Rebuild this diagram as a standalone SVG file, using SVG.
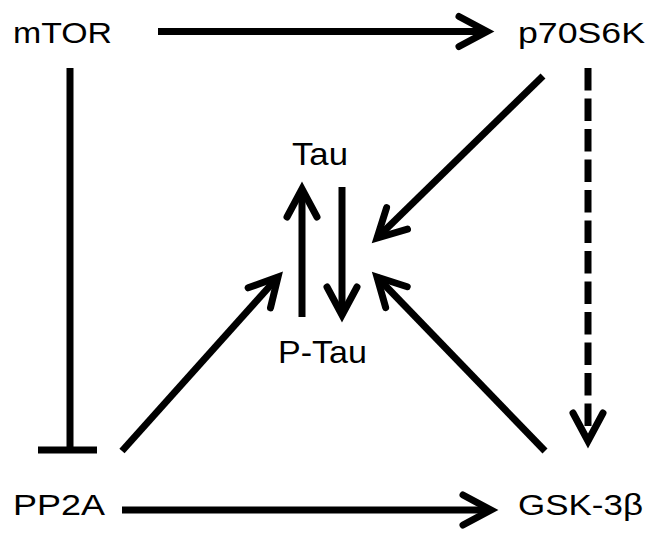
<svg xmlns="http://www.w3.org/2000/svg" width="653" height="539" viewBox="0 0 653 539">
<defs>
<style>
.lbl{font-family:"Liberation Sans",Arial,sans-serif;fill:#000;}
.edge{stroke:#000;stroke-width:7;fill:none;stroke-linecap:butt;}
</style>
<marker id="ah" markerUnits="userSpaceOnUse" viewBox="-45 -25 60 50" markerWidth="60" markerHeight="50" refX="0" refY="0" orient="auto">
<path d="M-28,-15 L0,0 L-28,15" fill="none" stroke="#000" stroke-width="7" stroke-linejoin="miter" stroke-miterlimit="10" stroke-linecap="round"/>
</marker>
</defs>
<rect width="653" height="539" fill="#fff"/>
<g id="mTOR"><text class="lbl" x="13" y="43" font-size="29" textLength="99" lengthAdjust="spacingAndGlyphs">mTOR</text></g>
<g id="p70S6K"><text class="lbl" x="518" y="43" font-size="29" textLength="127" lengthAdjust="spacingAndGlyphs">p70S6K</text></g>
<g id="PP2A"><text class="lbl" x="13" y="515" font-size="29" textLength="92" lengthAdjust="spacingAndGlyphs">PP2A</text></g>
<g id="GSK3b"><text class="lbl" x="518" y="515" font-size="29" textLength="125" lengthAdjust="spacingAndGlyphs">GSK-3β</text></g>
<g id="Tau"><text class="lbl" x="292" y="165" font-size="32" textLength="56" lengthAdjust="spacingAndGlyphs">Tau</text></g>
<g id="PTau"><text class="lbl" x="278" y="363" font-size="32" textLength="89" lengthAdjust="spacingAndGlyphs">P-Tau</text></g>
<g id="connectors">
<line class="edge" x1="158" y1="31.5" x2="487" y2="31.5" marker-end="url(#ah)"/>
<line class="edge" x1="122" y1="510" x2="491" y2="510" marker-end="url(#ah)"/>
<line class="edge" x1="70" y1="68" x2="70" y2="450"/>
<line class="edge" x1="38" y1="450" x2="97" y2="450"/>
<line class="edge" x1="588" y1="68" x2="588" y2="441" stroke-dasharray="22.5 8" marker-end="url(#ah)"/>
<line class="edge" x1="302" y1="317" x2="302" y2="189" marker-end="url(#ah)"/>
<line class="edge" x1="342" y1="187" x2="342" y2="315" marker-end="url(#ah)"/>
<line class="edge" x1="543" y1="76" x2="377" y2="238" marker-end="url(#ah)"/>
<line class="edge" x1="122" y1="451" x2="278" y2="277" marker-end="url(#ah)"/>
<line class="edge" x1="545" y1="451" x2="377" y2="277" marker-end="url(#ah)"/>
</g>
</svg>
